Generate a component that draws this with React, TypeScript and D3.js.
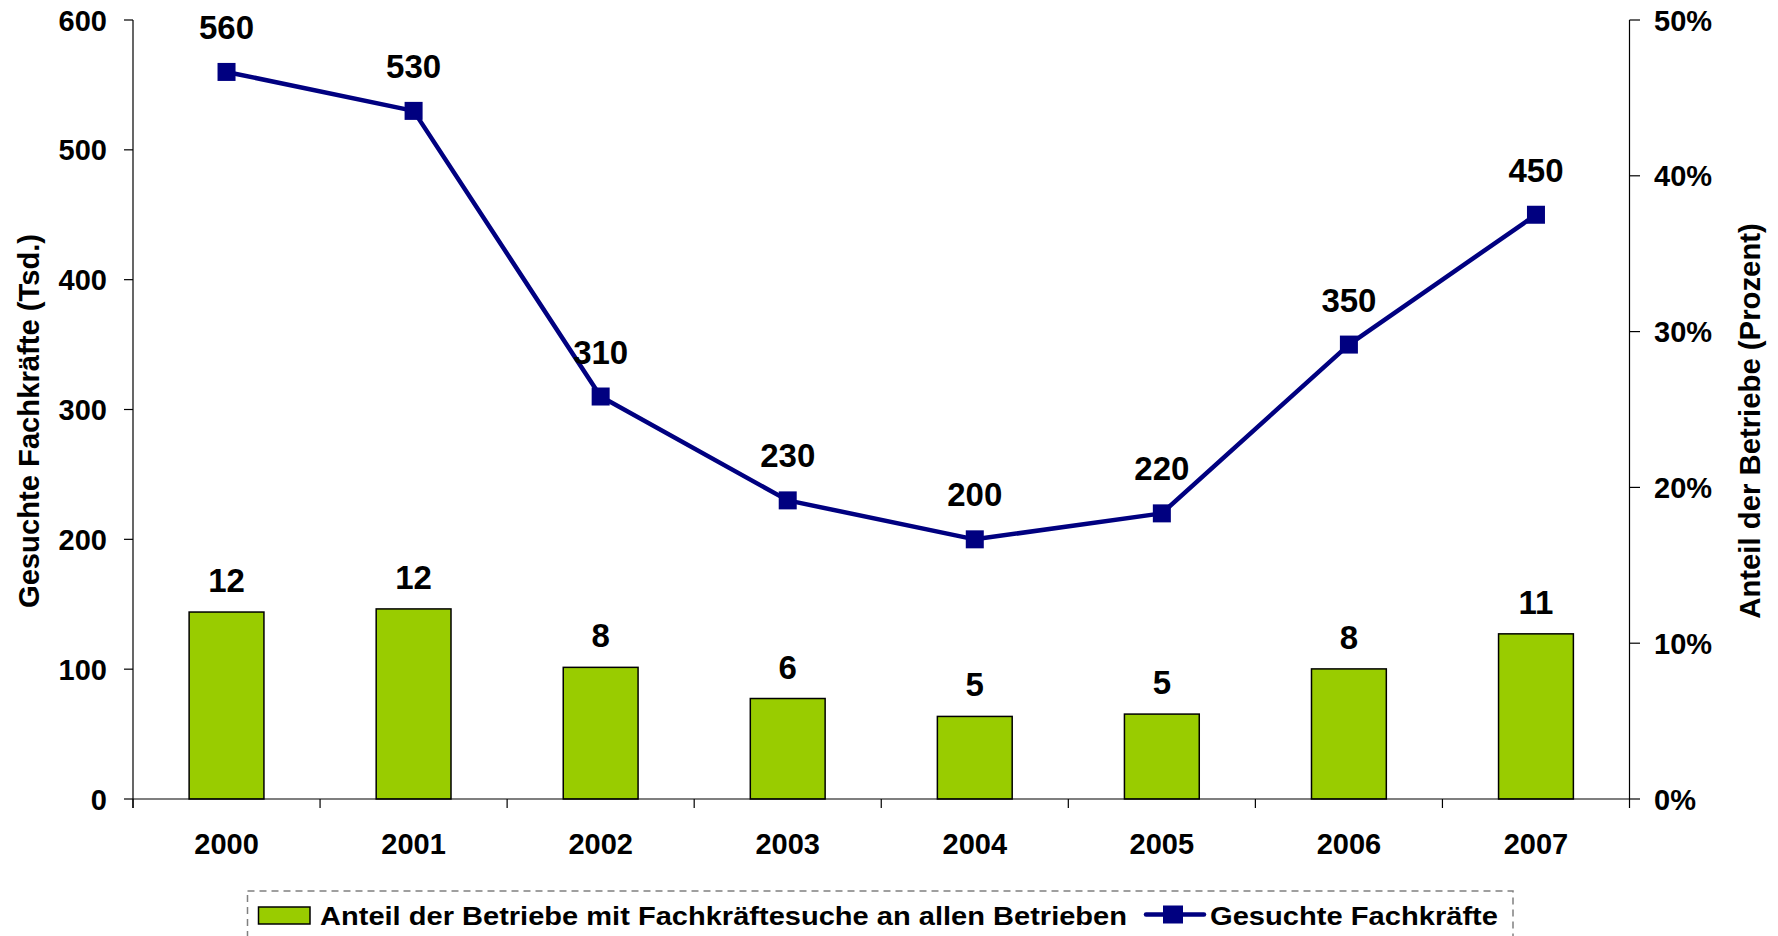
import React from "react";
import * as d3 from "d3";

const years = ["2000", "2001", "2002", "2003", "2004", "2005", "2006", "2007"];
const shareValues = [12.0, 12.2, 8.45, 6.45, 5.3, 5.45, 8.35, 10.6];
const soughtValues = [560, 530, 310, 230, 200, 220, 350, 450];
const leftTicks = [0, 100, 200, 300, 400, 500, 600];
const rightTicks = [0, 10, 20, 30, 40, 50];
const leftTitle = "Gesuchte Fachkräfte (Tsd.)";
const rightTitle = "Anteil der Betriebe (Prozent)";
const legendBar = "Anteil der Betriebe mit Fachkräftesuche an allen Betrieben";
const legendLine = "Gesuchte Fachkräfte";

const W = 1778;
const H = 936;
const FONT = "'Liberation Sans', Arial, sans-serif";
const GREEN = "#99CC00";
const NAVY = "#000080";

export default function App() {
  const x = d3.scaleBand<string>().domain(years).range([133, 1629.5]).padding(0);
  const yL = d3.scaleLinear().domain([0, 600]).range([799, 20]);
  const yR = d3.scaleLinear().domain([0, 50]).range([799, 20]);
  const step = x.step();
  const barW = step * 0.4;
  const cx = (d: string) => (x(d) as number) + step / 2;

  const line = d3
    .line<number>()
    .x((_, i) => cx(years[i]))
    .y((v) => yL(v));

  const x0 = 133;
  const x1 = 1629.5;
  const yBase = 799;
  const ms = 18;

  return (
    <svg
      width={W}
      height={H}
      style={{ position: "absolute", left: 0, top: 0, background: "#fff" }}
      fontFamily={FONT}
      fontWeight="bold"
    >
      <rect x={0} y={0} width={W} height={H} fill="#fff" />
      {/* Left axis */}
      <line x1={x0} x2={x0} y1={20} y2={808} stroke="#000" strokeWidth={1.2} />
      {leftTicks.map((t) => (
        <g key={"lt" + t}>
          <line x1={124} x2={x0} y1={yL(t)} y2={yL(t)} stroke="#000" strokeWidth={1.2} />
          <text x={107} y={yL(t) + 10.5} textAnchor="end" fontSize={29} fill="#000">
            {t}
          </text>
        </g>
      ))}
      {/* Right axis */}
      <line x1={x1} x2={x1} y1={20} y2={808} stroke="#000" strokeWidth={1.2} />
      {rightTicks.map((t) => (
        <g key={"rt" + t}>
          <line x1={x1} x2={1640} y1={yR(t)} y2={yR(t)} stroke="#000" strokeWidth={1.2} />
          <text x={1654} y={yR(t) + 10.5} textAnchor="start" fontSize={29} fill="#000">
            {t + "%"}
          </text>
        </g>
      ))}
      {/* Bars */}
      {years.map((yr, i) => (
        <rect
          key={"b" + yr}
          x={cx(yr) - barW / 2}
          y={yR(shareValues[i])}
          width={barW}
          height={yBase - yR(shareValues[i])}
          fill={GREEN}
          stroke="#000"
          strokeWidth={1.5}
        />
      ))}
      {/* X axis */}
      <line x1={x0} x2={x1} y1={yBase} y2={yBase} stroke="#000" strokeWidth={1.2} />
      {years.map((yr) => (
        <line
          key={"xt" + yr}
          x1={x(yr) as number}
          x2={x(yr) as number}
          y1={yBase}
          y2={808}
          stroke="#000"
          strokeWidth={1.2}
        />
      ))}
      {years.map((yr) => (
        <text key={"xl" + yr} x={cx(yr)} y={854} textAnchor="middle" fontSize={29} fill="#000">
          {yr}
        </text>
      ))}
      {/* Bar labels */}
      {years.map((yr, i) => (
        <text
          key={"bl" + yr}
          x={cx(yr)}
          y={yR(shareValues[i]) - 20}
          textAnchor="middle"
          fontSize={33}
          fill="#000"
        >
          {shareValues[i].toFixed(0)}
        </text>
      ))}
      {/* Line */}
      <path d={line(soughtValues) || ""} fill="none" stroke={NAVY} strokeWidth={4.5} strokeLinejoin="round" />
      {years.map((yr, i) => (
        <rect
          key={"m" + yr}
          x={cx(yr) - ms / 2}
          y={yL(soughtValues[i]) - ms / 2}
          width={ms}
          height={ms}
          fill={NAVY}
        />
      ))}
      {years.map((yr, i) => (
        <text
          key={"ll" + yr}
          x={cx(yr)}
          y={yL(soughtValues[i]) - 33}
          textAnchor="middle"
          fontSize={33}
          fill="#000"
        >
          {soughtValues[i]}
        </text>
      ))}
      {/* Axis titles */}
      <text
        transform={`translate(39,421) rotate(-90)`}
        textAnchor="middle"
        fontSize={29.2}
        fill="#000"
      >
        {leftTitle}
      </text>
      <text
        transform={`translate(1760,421) rotate(-90)`}
        textAnchor="middle"
        fontSize={29.3}
        fill="#000"
      >
        {rightTitle}
      </text>
      {/* Legend */}
      <rect
        x={247.5}
        y={891}
        width={1513 - 247.5}
        height={60}
        fill="none"
        stroke="#808080"
        strokeWidth={1.5}
        strokeDasharray="7,5"
      />
      <rect x={258.5} y={907} width={51.5} height={17} fill={GREEN} stroke="#000" strokeWidth={1.5} />
      <text x={320} y={925} fontSize={26.5} fill="#000" textLength={807} lengthAdjust="spacingAndGlyphs">
        {legendBar}
      </text>
      <line x1={1146} x2={1204} y1={914.5} y2={914.5} stroke={NAVY} strokeWidth={4.5} strokeLinecap="round" />
      <rect x={1173 - 10} y={914.5 - 9} width={20} height={18} fill={NAVY} />
      <text x={1210} y={925} fontSize={26.5} fill="#000" textLength={288} lengthAdjust="spacingAndGlyphs">
        {legendLine}
      </text>
    </svg>
  );
}
